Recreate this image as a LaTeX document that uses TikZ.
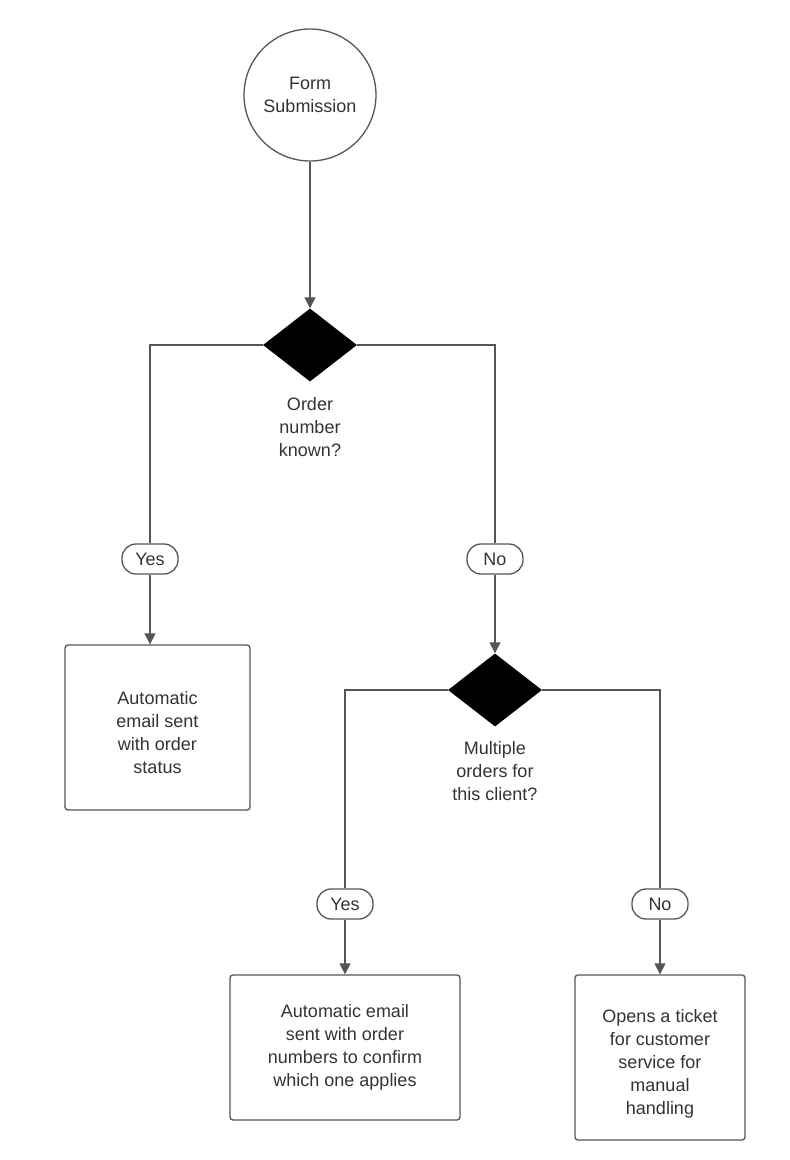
\documentclass[tikz,border=0pt]{standalone}
\usepackage{fontspec}
\setmainfont{Liberation Sans}
\usetikzlibrary{shapes.geometric,arrows.meta}
\definecolor{linec}{HTML}{555555}
\definecolor{textc}{HTML}{333333}
\tikzset{
  every node/.style={font=\fontsize{18}{23}\selectfont, text=textc},
  startnode/.style={circle, draw=linec, line width=1.3pt, minimum size=132pt, inner sep=0pt, align=center},
  decision/.style={diamond, fill=black, draw=none, minimum width=94pt, minimum height=73pt, inner sep=0pt},
  dlabel/.style={align=center, anchor=north, inner sep=0pt},
  pill/.style={draw=linec, line width=1.3pt, rounded corners=14pt, minimum width=56pt, minimum height=30pt, inner sep=0pt, fill=white},
  procbox/.style={draw=linec, line width=1.3pt, rounded corners=3pt, inner sep=0pt},
  boxtext/.style={align=center, inner sep=0pt},
  conn/.style={draw=linec, line width=1.3pt},
  arr/.style={conn, -{Triangle[width=11pt,length=11pt]}}
}
\begin{document}
\begin{tikzpicture}[x=1pt,y=-1pt]
\useasboundingbox (0,0) rectangle (790,1160);
\node[startnode] (start) at (310,95) {Form\\Submission};
\node[decision] (d1) at (310,345) {};
\node[dlabel] (l1) at (310,397) {Order\\number\\known?};
\node[pill] (y1) at (150,559) {Yes};
\node[pill] (n1) at (495,559) {No};
\node[procbox, minimum width=185pt, minimum height=165pt] (b1) at (157.5,727.5) {};
\node[boxtext] (b1t) at (157.5,733) {Automatic\\email sent\\with order\\status};
\node[decision] (d2) at (495,690) {};
\node[dlabel] (l2) at (495,741) {Multiple\\orders for\\this client?};
\node[pill] (y2) at (345,904) {Yes};
\node[pill] (n2) at (660,904) {No};
\node[procbox, minimum width=230pt, minimum height=145pt] (b2) at (345,1047.5) {};
\node[boxtext] (b2t) at (345,1047.5) {Automatic email\\sent with order\\numbers to confirm\\which one applies};
\node[procbox, minimum width=170pt, minimum height=165pt] (b3) at (660,1057.5) {};
\node[boxtext] (b3t) at (660,1063.5) {Opens a ticket\\for customer\\service for\\manual\\handling};

\draw[arr] (start.south) -- (d1.north);
\draw[conn] (d1.west) -| (y1.north);
\draw[arr] (y1.south) -- (y1.south |- b1.north);
\draw[conn] (d1.east) -| (n1.north);
\draw[arr] (n1.south) -- (d2.north);
\draw[conn] (d2.west) -| (y2.north);
\draw[arr] (y2.south) -- (b2.north);
\draw[conn] (d2.east) -| (n2.north);
\draw[arr] (n2.south) -- (b3.north);
\end{tikzpicture}
\end{document}
